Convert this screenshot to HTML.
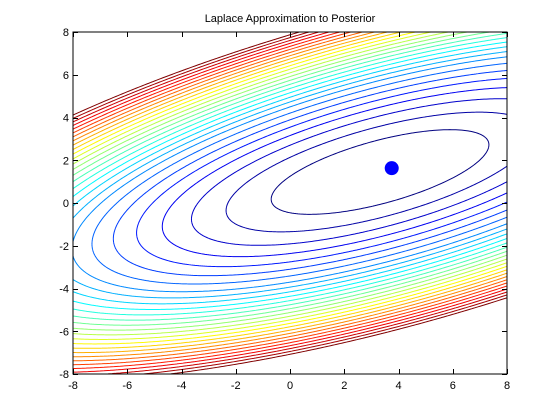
<!DOCTYPE html>
<html><head><meta charset="utf-8"><style>
html,body{margin:0;padding:0;background:#fff;}
svg{display:block;font-family:"Liberation Sans",sans-serif;}
</style></head><body>
<svg id="chart" width="560" height="420" viewBox="0 0 560 420" xmlns="http://www.w3.org/2000/svg">
<rect x="0" y="0" width="560" height="420" fill="#fff"/>
<text x="290" y="22" text-anchor="middle" font-size="11">Laplace Approximation to Posterior</text>
<defs><clipPath id="plotclip"><rect x="73" y="32" width="434" height="342"/></clipPath></defs>
<rect x="73" y="32" width="434" height="342" fill="#fff"/>
<g id="contours" clip-path="url(#plotclip)"></g>
<g id="axes"></g>
</svg>
<script>
// ---- data ----
const xTicks = [-8,-6,-4,-2,0,2,4,6,8];
const yTicks = [-8,-6,-4,-2,0,2,4,6,8];
const gaussCenter = [3.32, 1.45];
const majorSemi = [4.24];      // semi-major axis at level 1
const minorSemi = [1.435];     // semi-minor axis at level 1
const angleDeg = [20];
const levels = [1,2,3,4,5,6,7,8,8.85,9.7,10.55,11.4,12.25,13.1,13.95,14.8,15.65,16.5,17.35,18.2,19.05,19.9,20.75,21.6,22.45,23.3,24.15,25];
const modePoint = [3.75, 1.63];

// ---- axes functions ----
const X0=73, X1=507, Y0=32, Y1=374;
const xs = v => X0 + (v+8)/16*(X1-X0);
const ys = v => Y1 - (v+8)/16*(Y1-Y0);
const NS="http://www.w3.org/2000/svg";

function jet(t){
  const c=v=>Math.max(0,Math.min(1,v));
  const r=c(1.5-Math.abs(4*t-3)), g=c(1.5-Math.abs(4*t-2)), b=c(1.5-Math.abs(4*t-1));
  return `rgb(${Math.round(r*255)},${Math.round(g*255)},${Math.round(b*255)})`;
}
const th = angleDeg[0]*Math.PI/180, ct=Math.cos(th), st=Math.sin(th);
function Q(x,y){
  const dx=x-gaussCenter[0], dy=y-gaussCenter[1];
  const u=dx*ct+dy*st, v=-dx*st+dy*ct;
  return u*u/(majorSemi[0]*majorSemi[0]) + v*v/(minorSemi[0]*minorSemi[0]);
}
const n=220, lo=-8.2, hi=8.2, h=(hi-lo)/n;
const Z=[];
for(let i=0;i<=n;i++){Z.push([]);for(let j=0;j<=n;j++){Z[i].push(Q(lo+j*h, lo+i*h));}}
const cg=document.getElementById('contours');
levels.forEach((L,k)=>{
  let d='';
  const interp=(x1,y1,z1,x2,y2,z2)=>{const t=(L-z1)/(z2-z1);return [x1+t*(x2-x1),y1+t*(y2-y1)];};
  for(let i=0;i<n;i++)for(let j=0;j<n;j++){
    const xa=lo+j*h, xb=xa+h, ya=lo+i*h, yb=ya+h;
    const z00=Z[i][j], z01=Z[i][j+1], z10=Z[i+1][j], z11=Z[i+1][j+1];
    const pts=[];
    if((z00<L)!==(z01<L)) pts.push(interp(xa,ya,z00,xb,ya,z01));
    if((z01<L)!==(z11<L)) pts.push(interp(xb,ya,z01,xb,yb,z11));
    if((z11<L)!==(z10<L)) pts.push(interp(xb,yb,z11,xa,yb,z10));
    if((z10<L)!==(z00<L)) pts.push(interp(xa,yb,z10,xa,ya,z00));
    for(let p=0;p+1<pts.length;p+=2){
      d+=`M${xs(pts[p][0]).toFixed(2)} ${ys(pts[p][1]).toFixed(2)}L${xs(pts[p+1][0]).toFixed(2)} ${ys(pts[p+1][1]).toFixed(2)}`;
    }
  }
  const path=document.createElementNS(NS,'path');
  path.setAttribute('d',d);
  path.setAttribute('fill','none');
  path.setAttribute('stroke',jet(k/(levels.length-1)));
  path.setAttribute('stroke-width','1');
  
  
  cg.appendChild(path);
});
const dot=document.createElementNS(NS,'circle');
dot.setAttribute('cx',xs(modePoint[0]));
dot.setAttribute('cy',ys(modePoint[1]));
dot.setAttribute('r','7');
dot.setAttribute('fill','#0000ff');


cg.appendChild(dot);

const ag=document.getElementById('axes');
const frame=document.createElementNS(NS,'rect');
frame.setAttribute('x',X0);frame.setAttribute('y',Y0);
frame.setAttribute('width',X1-X0);frame.setAttribute('height',Y1-Y0);
frame.setAttribute('fill','none');frame.setAttribute('stroke','#000');frame.setAttribute('stroke-width','1');


ag.appendChild(frame);
function line(x1,y1,x2,y2,name){
  const l=document.createElementNS(NS,'line');
  l.setAttribute('x1',x1);l.setAttribute('y1',y1);l.setAttribute('x2',x2);l.setAttribute('y2',y2);
  l.setAttribute('stroke','#000');l.setAttribute('stroke-width','1');
  
  
  ag.appendChild(l);
}
function text(x,y,s,anchor,name){
  const t=document.createElementNS(NS,'text');
  t.setAttribute('x',x);t.setAttribute('y',y);t.setAttribute('text-anchor',anchor);
  t.setAttribute('font-size','11');t.textContent=s;
  
  
  ag.appendChild(t);
}
xTicks.forEach(v=>{
  const x=Math.round(xs(v))+0.5;
  line(x,Y1,x,Y1-5,'x-tick');
  line(x,Y0,x,Y0+5,'x-tick-top');
  text(xs(v),Y1+15,String(v),'middle','x-tick-label');
});
yTicks.forEach(v=>{
  const y=Math.round(ys(v))+0.5;
  line(X0,y,X0+5,y,'y-tick');
  line(X1,y,X1-5,y,'y-tick-right');
  text(X0-4,ys(v)+4,String(v),'end','y-tick-label');
});
</script>
</body></html>
